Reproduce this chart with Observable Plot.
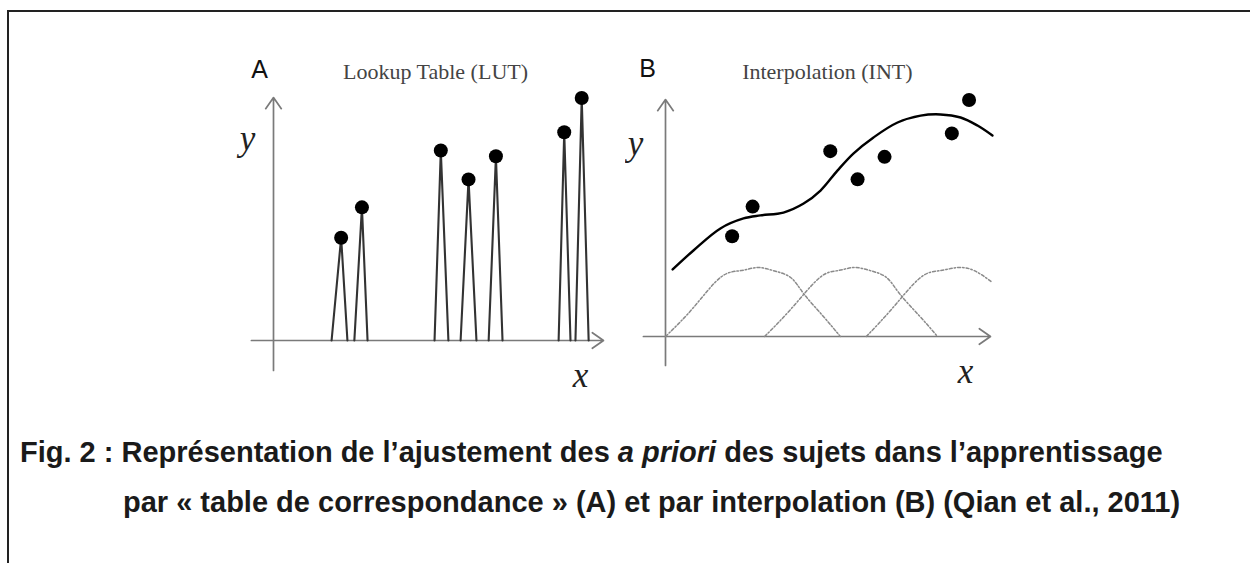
<!DOCTYPE html>
<html><head><meta charset="utf-8">
<script src="https://cdn.jsdelivr.net/npm/d3@7"></script>
<script src="https://cdn.jsdelivr.net/npm/@observablehq/plot@0.6"></script>
<style>
body{margin:0;background:#fff;width:1250px;height:563px;overflow:hidden;position:relative;font-family:"Liberation Sans",Arial,sans-serif}
#frame{position:absolute;left:7px;top:10px;width:1300px;height:600px;border-top:2px solid #222;border-left:2px solid #222}
#panelA{position:absolute;left:0;top:0}
#panelB{position:absolute;left:625px;top:0}
.cap{position:absolute;font-weight:bold;font-size:29px;line-height:34px;color:#1a1a1a;white-space:nowrap}
</style></head><body>
<div id="frame"></div>
<div id="panelA"></div><div id="panelB"></div>
<div class="cap" style="left:20px;top:435px">Fig. 2 : Représentation de l’ajustement des <i>a priori</i> des sujets dans l’apprentissage</div>
<div class="cap" style="left:123px;top:485px">par « table de correspondance » (A) et par interpolation (B) (Qian et al., 2011)</div>
<script>
// ---- data (abstract axis units, origin at axis crossing) ----
const panelLetters = ["A", "B"];
const panelTitles = ["Lookup Table (LUT)", "Interpolation (INT)"];
const axisLabels = ["x", "y"];

// observed samples (same in both panels)
const sampleX = [2.05, 2.68, 5.07, 5.91, 6.74, 8.81, 9.34];
const sampleY = [4.23, 5.48, 7.82, 6.63, 7.58, 8.57, 9.98];

// LUT spikes: left / right foot of each narrow tent
const stemLeft  = [1.76, 2.45, 4.88, 5.67, 6.52, 8.64, 9.15];
const stemRight = [2.24, 2.85, 5.30, 6.15, 6.94, 9.00, 9.55];

// fitted interpolation curve
const fitX = [0.22, 0.86, 1.69, 2.40, 2.92, 3.63, 4.25, 4.77, 5.29, 5.78, 6.40, 7.14, 7.85, 8.46, 9.08, 9.60, 10.06];
const fitY = [2.83, 3.63, 4.56, 4.98, 5.11, 5.23, 5.61, 6.16, 7.00, 7.72, 8.40, 9.03, 9.32, 9.37, 9.24, 8.90, 8.48];

// basis functions (dash-dot bumps)
const bump1X = [0, 0.86, 1.69, 2.31, 2.83, 3.32, 3.85, 4.25, 4.83, 5.38];
const bump1Y = [0, 1.22, 2.49, 2.78, 2.91, 2.78, 2.49, 1.81, 0.89, 0];
const bump2X = [3.05, 3.90, 4.75, 5.30, 5.80, 6.30, 6.80, 7.20, 7.80, 8.37];
const bump2Y = [0, 1.22, 2.49, 2.78, 2.91, 2.78, 2.49, 1.81, 0.89, 0];
const bump3X = [6.18, 7.00, 7.85, 8.45, 8.98, 9.50, 10.06];
const bump3Y = [0, 1.22, 2.49, 2.78, 2.91, 2.78, 2.28];

// ---- derived tables ----
const samples = sampleX.map((x, i) => ({x, y: sampleY[i]}));
const stems = sampleX.flatMap((x, i) => [
  {id: i, x: stemLeft[i], y: 0},
  {id: i, x, y: sampleY[i]},
  {id: i, x: stemRight[i], y: 0}
]);
const fit = fitX.map((x, i) => ({x, y: fitY[i]}));
const bumps = [[bump1X, bump1Y], [bump2X, bump2Y], [bump3X, bump3Y]]
  .flatMap(([bx, by], k) => bx.map((x, i) => ({k, x, y: by[i]})));

const axisColor = "#7a7a7a";
function axes(xMin, yMin) {
  return [
    Plot.arrow([{x1: xMin, y1: 0, x2: 10, y2: 0}], {x1: "x1", y1: "y1", x2: "x2", y2: "y2", stroke: axisColor, strokeWidth: 1.7, headLength: 12, headAngle: 70}),
    Plot.arrow([{x1: 0, y1: yMin, x2: 0, y2: 10}], {x1: "x1", y1: "y1", x2: "x2", y2: "y2", stroke: axisColor, strokeWidth: 1.7, headLength: 12, headAngle: 70})
  ];
}
function labels(letterPos, titlePos, yPos, xPos, idx) {
  return [
    Plot.text([{...letterPos, t: panelLetters[idx]}], {x: "x", y: "y", text: "t", fontSize: 25, fontFamily: "Liberation Sans, Arial, sans-serif", fill: "#111"}),
    Plot.text([{...titlePos, t: panelTitles[idx]}], {x: "x", y: "y", text: "t", fontSize: 22, fontFamily: "Liberation Serif, Times New Roman, serif", fill: "#444"}),
    Plot.text([{...yPos, t: axisLabels[1]}], {x: "x", y: "y", text: "t", fontSize: 35, fontStyle: "italic", fontFamily: "Liberation Serif, Times New Roman, serif", fill: "#222"}),
    Plot.text([{...xPos, t: axisLabels[0]}], {x: "x", y: "y", text: "t", fontSize: 35, fontStyle: "italic", fontFamily: "Liberation Serif, Times New Roman, serif", fill: "#222"})
  ];
}

const chartA = Plot.plot({
  width: 625, height: 400, margin: 0,
  x: {domain: [0, 10], range: [273, 603], axis: null},
  y: {domain: [0, 10], range: [340, 97], axis: null},
  marks: [
    ...axes(-0.67, -1.23),
    Plot.line(stems, {x: "x", y: "y", z: "id", stroke: "#333", strokeWidth: 2.1}),
    Plot.dot(samples, {x: "x", y: "y", r: 7, fill: "#000", stroke: "none"}),
    ...labels({x: -0.42, y: 11.15}, {x: 4.91, y: 11.05}, {x: -0.79, y: 8.3}, {x: 9.30, y: -1.45}, 0)
  ]
});
document.getElementById("panelA").append(chartA);

const chartB = Plot.plot({
  width: 625, height: 400, margin: 0,
  x: {domain: [0, 10], range: [40, 365], axis: null},
  y: {domain: [0, 10], range: [336, 99], axis: null},
  marks: [
    ...axes(-0.68, -1.22),
    Plot.line(bumps, {x: "x", y: "y", z: "k", curve: "natural", stroke: "#8a8a8a", strokeWidth: 1.5, strokeDasharray: "3,2,1.5,2"}),
    Plot.line(fit, {x: "x", y: "y", curve: "catmull-rom", stroke: "#000", strokeWidth: 2.4}),
    Plot.dot(samples, {x: "x", y: "y", r: 7, fill: "#000", stroke: "none"}),
    ...labels({x: -0.55, y: 11.3}, {x: 4.98, y: 11.15}, {x: -0.92, y: 8.15}, {x: 9.23, y: -1.5}, 1)
  ]
});
document.getElementById("panelB").append(chartB);
</script>
</body></html>
